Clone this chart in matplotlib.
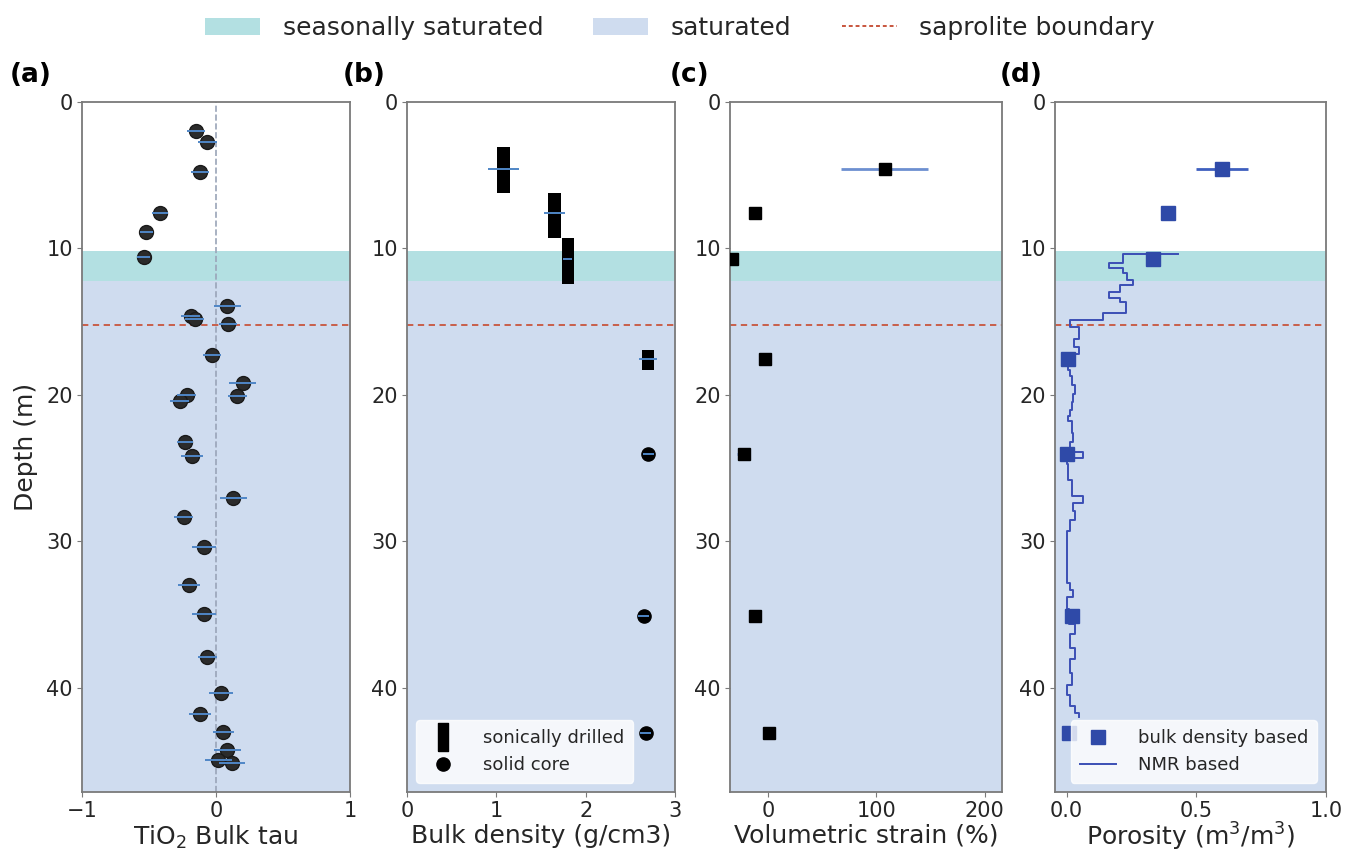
import matplotlib
matplotlib.use("Agg")
import matplotlib.pyplot as plt
from matplotlib.patches import Patch
from matplotlib.lines import Line2D
import numpy as np

# ---------------- data ----------------
# (a) TiO2 bulk tau
tau_depth = [2.0, 2.7, 4.75, 7.55, 8.85, 10.55, 13.95, 14.6, 14.8, 15.15, 17.3, 19.15,
             20.0, 20.4, 20.07, 23.2, 24.15, 27.0, 28.35, 30.4, 33.0, 34.95, 37.9,
             40.35, 41.8, 43.0, 44.2, 44.9, 45.1]
tau_value = [-0.15, -0.065, -0.12, -0.42, -0.52, -0.54, 0.085, -0.19, -0.16, 0.09, -0.03, 0.2,
             -0.22, -0.27, 0.16, -0.23, -0.18, 0.13, -0.24, -0.09, -0.2, -0.09, -0.065,
             0.037, -0.12, 0.055, 0.085, 0.017, 0.12]
tau_err = [0.07, 0.07, 0.07, 0.06, 0.05, 0.05, 0.1, 0.07, 0.07, 0.07, 0.07, 0.1,
           0.07, 0.07, 0.07, 0.06, 0.08, 0.1, 0.07, 0.09, 0.08, 0.09, 0.07,
           0.09, 0.08, 0.08, 0.1, 0.1, 0.1]

# sample depths (sonically drilled / solid core)
sonic_depth = [4.6, 7.6, 10.7, 17.55]
sonic_top = [3.05, 6.2, 9.3, 16.9]
sonic_bottom = [6.2, 9.25, 12.4, 18.3]
core_depth = [24.05, 35.1, 43.1]

# (b) bulk density
sonic_density = [1.08, 1.65, 1.80, 2.70]
sonic_density_err = [0.17, 0.12, 0.05, 0.1]
core_density = [2.70, 2.65, 2.67]
core_density_err = [0.06, 0.06, 0.06]

# (c) volumetric strain
strain_depth = sonic_depth + core_depth
strain_value = [107.7, -12.3, -32.9, -3.1, -22.4, -12.3, 0.6]
strain_err = [40, 3, 3, 3, 6, 4, 2]

# (d) porosity
poro_value = [0.60, 0.39, 0.334, 0.005, 0.0, 0.02, 0.01]
poro_err = [0.1, 0.01, 0.01, 0.01, 0.01, 0.01, 0.01]
nmr_depth = [10.35, 10.37, 10.97, 11.35, 11.70, 12.15, 12.50, 12.95, 13.35, 13.65, 14.38,
             14.88, 15.38, 16.2, 16.7, 17.2, 17.8, 18.3, 18.7, 19.3, 19.9, 20.5, 21.0,
             21.4, 21.8, 22.6, 23.2, 23.9, 24.3, 24.7, 25.3, 25.8, 26.9, 27.4, 27.9,
             28.5, 29.3, 32.8, 33.3, 33.8, 34.6, 35.6, 36.3, 37.3, 38.0, 39.0, 39.8,
             40.5, 41.2, 41.7, 41.95]
nmr_porosity = [0.43, 0.216, 0.164, 0.216, 0.234, 0.255, 0.206, 0.164, 0.206, 0.229, 0.141,
                0.013, 0.049, 0.03, 0.048, 0.012, 0.005, 0.012, 0.02, 0.032, 0.026, 0.02, 0.012,
                0.004, 0.02, 0.026, 0.013, 0.064, 0.0, 0.004, 0.006, 0.02, 0.064, 0.026, 0.032,
                0.013, 0.0, 0.013, 0.026, 0.0, 0.01, 0.032, 0.013, 0.032, 0.013, 0.02, 0.0,
                0.013, 0.032, 0.049, 0.049]

# zones
seasonal_zone = (10.2, 12.2)
saturated_zone = (12.2, 47.1)
saprolite_depth = 15.2
depth_max = 47.1

# ---------------- style ----------------
SEASONAL_C = "#b3e0e2"
SATURATED_C = "#cfdcef"
SAPRO_C = "#c8553d"
TXT = "#262626"
SPINE = "#7a7a7a"
ERR_C = "#4f86c6"
BLUE = "#2f4aa8"

plt.rcParams['font.family'] = ['DejaVu Sans']
plt.rcParams['text.color'] = TXT
plt.rcParams['axes.labelcolor'] = TXT
plt.rcParams['xtick.color'] = TXT
plt.rcParams['ytick.color'] = TXT

fig = plt.figure(figsize=(13.46, 8.57), dpi=100)
W, H = 1346.0, 857.0
top_px, bot_px = 102, 792
lefts = [82, 407, 730, 1055]
rights = [350, 675, 1002, 1326]
axes = []
for l, r in zip(lefts, rights):
    ax = fig.add_axes([l / W, 1 - bot_px / H, (r - l) / W, (bot_px - top_px) / H])
    axes.append(ax)

for ax in axes:
    ax.axhspan(*seasonal_zone, color=SEASONAL_C, lw=0, zorder=0)
    ax.axhspan(*saturated_zone, color=SATURATED_C, lw=0, zorder=0)
    ax.axhline(saprolite_depth, color=SAPRO_C, ls='--', lw=1.3, dashes=(3.5, 2.5), zorder=1)
    ax.set_ylim(depth_max, 0)
    ax.set_yticks([0, 10, 20, 30, 40])
    ax.tick_params(labelsize=15, length=3.5, color=SPINE, pad=3)
    for s in ax.spines.values():
        s.set_color(SPINE)
        s.set_linewidth(1.3)

# (a)
ax = axes[0]
ax.axvline(0, color='#9aa4b8', ls='--', lw=1.2, zorder=1)
ax.plot(tau_value, tau_depth, 'o', color='#2b2b2b', ms=10, mec='#1a1a1a', zorder=3)
ax.errorbar(tau_value, tau_depth, xerr=tau_err, fmt='none', ecolor=ERR_C, elinewidth=1.4, zorder=4)
ax.set_xlim(-1, 1)
ax.set_xticks([-1, 0, 1])
ax.set_xlabel('TiO$_2$ Bulk tau', fontsize=18, labelpad=2)
ax.set_ylabel('Depth (m)', fontsize=18, labelpad=6)

# (b)
ax = axes[1]
heights = [b - t for t, b in zip(sonic_top, sonic_bottom)]
ax.bar(sonic_density, heights, bottom=sonic_top, width=0.14, color='black', zorder=3)
ax.errorbar(sonic_density, sonic_depth, xerr=sonic_density_err, fmt='none', ecolor=ERR_C,
            elinewidth=1.4, zorder=4)
ax.plot(core_density, core_depth, 'o', color='black', ms=9.5, zorder=3)
ax.errorbar(core_density, core_depth, xerr=core_density_err, fmt='none', ecolor=ERR_C,
            elinewidth=1.4, zorder=4)
ax.set_xlim(0, 3)
ax.set_xticks([0, 1, 2, 3])
ax.set_xlabel('Bulk density (g/cm3)', fontsize=18, labelpad=2)
rect_marker = [(-0.35, -1), (0.35, -1), (0.35, 1), (-0.35, 1), (-0.35, -1)]
h_sonic = Line2D([], [], marker=rect_marker, color='black', ls='none', ms=20)
h_core = Line2D([], [], marker='o', color='black', ls='none', ms=9.5)
ax.legend([h_sonic, h_core], ['sonically drilled', 'solid core'], loc='lower left',
          fontsize=13, framealpha=0.8, edgecolor='white', borderpad=0.5, handletextpad=1.2)

# (c)
ax = axes[2]
ax.plot(strain_value, strain_depth, 's', color='black', ms=9, zorder=3)
ax.errorbar(strain_value, strain_depth, xerr=strain_err, fmt='none', ecolor='#6d8fd0',
            elinewidth=2.0, zorder=2)
ax.set_xlim(-35, 216)
ax.set_xticks([0, 100, 200])
ax.set_xlabel('Volumetric strain (%)', fontsize=18, labelpad=2)

# (d)
ax = axes[3]
ax.plot(nmr_porosity, nmr_depth, color='#3b4fb5', lw=1.4, drawstyle='steps-pre', zorder=3,
        label='NMR based')
ax.plot(poro_value, strain_depth, 's', color=BLUE, ms=10, zorder=4, label='bulk density based')
ax.errorbar(poro_value, strain_depth, xerr=poro_err, fmt='none', ecolor='#3e5fbf',
            elinewidth=2.0, zorder=3)
ax.set_xlim(-0.045, 1.0)
ax.set_xticks([0.0, 0.5, 1.0])
ax.set_xticklabels(['0.0', '0.5', '1.0'])
ax.set_xlabel('Porosity (m$^3$/m$^3$)', fontsize=18, labelpad=0)
h1 = Line2D([], [], marker='s', color=BLUE, ls='none', ms=10)
h2 = Line2D([], [], color='#3b4fb5', lw=1.4)
ax.legend([h1, h2], ['bulk density based', 'NMR based'], loc='lower right', fontsize=13,
          framealpha=0.8, edgecolor='white', borderpad=0.5, handletextpad=1.2)

# panel labels
for lab, xp in zip(['(a)', '(b)', '(c)', '(d)'], [10, 343, 670, 1000]):
    fig.text(xp / W, 1 - 75 / H, lab, fontsize=19, fontweight='bold', color='black',
             ha='left', va='center')

# top legend
handles = [Patch(facecolor=SEASONAL_C, edgecolor='none'),
           Patch(facecolor=SATURATED_C, edgecolor='none'),
           Line2D([], [], color=SAPRO_C, ls='--', lw=1.4, dashes=(2, 1.5))]
fig.legend(handles, ['seasonally saturated', 'saturated', 'saprolite boundary'],
           loc='center', bbox_to_anchor=(680 / W, 1 - 28 / H), ncol=3, frameon=False,
           fontsize=18, handlelength=2.2, columnspacing=2.0, handletextpad=0.9)

fig.savefig('out.png', dpi=100)
